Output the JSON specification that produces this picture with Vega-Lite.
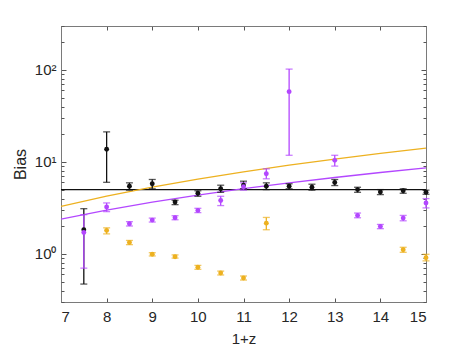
{
  "$schema": "https://vega.github.io/schema/vega-lite/v6.json",
  "width": 365,
  "height": 276,
  "autosize": "none",
  "padding": {"left": 61, "top": 26, "right": 45, "bottom": 46},
  "config": {
    "view": {"stroke": null},
    "font": "Liberation Sans",
    "axis": {
      "domainColor": "#7a7a7a",
      "tickColor": "#555555",
      "labelColor": "#262626",
      "titleColor": "#262626",
      "labelFont": "Liberation Sans",
      "titleFont": "Liberation Sans",
      "labelFontSize": 15,
      "titleFontSize": 15,
      "titleFontWeight": "normal",
      "grid": false
    }
  },
  "datasets": {
    "pts": [
      {"s": "b", "x": 7.5, "y": 1.83, "lo": 0.47, "hi": 3.1},
      {"s": "b", "x": 8, "y": 13.7, "lo": 6.0, "hi": 21.2},
      {"s": "b", "x": 8.5, "y": 5.44, "lo": 4.93, "hi": 5.92},
      {"s": "b", "x": 9, "y": 5.78, "lo": 5.1, "hi": 6.44},
      {"s": "b", "x": 9.5, "y": 3.67, "lo": 3.43, "hi": 3.83},
      {"s": "b", "x": 10, "y": 4.56, "lo": 4.23, "hi": 4.85},
      {"s": "b", "x": 10.5, "y": 5.1, "lo": 4.67, "hi": 5.58},
      {"s": "b", "x": 11, "y": 5.58, "lo": 5.1, "hi": 6.17},
      {"s": "b", "x": 11.5, "y": 5.44, "lo": 5.0, "hi": 5.92},
      {"s": "b", "x": 12, "y": 5.44, "lo": 5.1, "hi": 5.78},
      {"s": "b", "x": 12.5, "y": 5.3, "lo": 4.93, "hi": 5.72},
      {"s": "b", "x": 13, "y": 5.97, "lo": 5.53, "hi": 6.44},
      {"s": "b", "x": 13.5, "y": 5.0, "lo": 4.67, "hi": 5.3},
      {"s": "b", "x": 14, "y": 4.72, "lo": 4.41, "hi": 5.0},
      {"s": "b", "x": 14.5, "y": 4.85, "lo": 4.56, "hi": 5.1},
      {"s": "b", "x": 15, "y": 4.67, "lo": 4.45, "hi": 4.93},
      {"s": "o", "x": 8, "y": 1.8, "lo": 1.65, "hi": 1.92},
      {"s": "o", "x": 8.5, "y": 1.33, "lo": 1.26, "hi": 1.4},
      {"s": "o", "x": 9, "y": 0.99, "lo": 0.95, "hi": 1.03},
      {"s": "o", "x": 9.5, "y": 0.93, "lo": 0.9, "hi": 0.975},
      {"s": "o", "x": 10, "y": 0.715, "lo": 0.68, "hi": 0.75},
      {"s": "o", "x": 10.5, "y": 0.62, "lo": 0.59, "hi": 0.65},
      {"s": "o", "x": 11, "y": 0.547, "lo": 0.52, "hi": 0.575},
      {"s": "o", "x": 11.5, "y": 2.16, "lo": 1.83, "hi": 2.49},
      {"s": "o", "x": 14.5, "y": 1.11, "lo": 1.04, "hi": 1.18},
      {"s": "o", "x": 15, "y": 0.91, "lo": 0.84, "hi": 0.99},
      {"s": "p", "x": 7.5, "y": 1.71, "lo": 0.7, "hi": 2.67},
      {"s": "p", "x": 8, "y": 3.24, "lo": 2.88, "hi": 3.58},
      {"s": "p", "x": 8.5, "y": 2.13, "lo": 2.01, "hi": 2.24},
      {"s": "p", "x": 9, "y": 2.33, "lo": 2.22, "hi": 2.45},
      {"s": "p", "x": 9.5, "y": 2.47, "lo": 2.35, "hi": 2.6},
      {"s": "p", "x": 10, "y": 2.97, "lo": 2.81, "hi": 3.13},
      {"s": "p", "x": 10.5, "y": 3.8, "lo": 3.35, "hi": 4.23},
      {"s": "p", "x": 11, "y": 5.36, "lo": 4.93, "hi": 5.92},
      {"s": "p", "x": 11.5, "y": 7.43, "lo": 6.55, "hi": 8.4},
      {"s": "p", "x": 12, "y": 58, "lo": 11.8, "hi": 102},
      {"s": "p", "x": 13, "y": 10.4, "lo": 9.0, "hi": 11.8},
      {"s": "p", "x": 13.5, "y": 2.62, "lo": 2.47, "hi": 2.78},
      {"s": "p", "x": 14, "y": 1.99, "lo": 1.88, "hi": 2.09},
      {"s": "p", "x": 14.5, "y": 2.45, "lo": 2.29, "hi": 2.62},
      {"s": "p", "x": 15, "y": 3.58, "lo": 3.16, "hi": 3.99}
    ],
    "fits": [
      {"s": "b", "x": 7, "y": 5.0},
      {"s": "b", "x": 15, "y": 5.0},
      {"s": "o", "x": 7, "y": 3.29},
      {"s": "o", "x": 8, "y": 4.25},
      {"s": "o", "x": 9, "y": 5.32},
      {"s": "o", "x": 10, "y": 6.5},
      {"s": "o", "x": 11, "y": 7.8},
      {"s": "o", "x": 12, "y": 9.21},
      {"s": "o", "x": 13, "y": 10.73},
      {"s": "o", "x": 14, "y": 12.36},
      {"s": "o", "x": 15, "y": 14.1},
      {"s": "p", "x": 7, "y": 2.39},
      {"s": "p", "x": 8, "y": 2.99},
      {"s": "p", "x": 9, "y": 3.65},
      {"s": "p", "x": 10, "y": 4.36},
      {"s": "p", "x": 11, "y": 5.12},
      {"s": "p", "x": 12, "y": 5.92},
      {"s": "p", "x": 13, "y": 6.77},
      {"s": "p", "x": 14, "y": 7.67},
      {"s": "p", "x": 15, "y": 8.61}
    ]
  },
  "layer": [
    {
      "data": {"name": "fits"},
      "mark": {"type": "line", "strokeWidth": 1.3, "clip": true},
      "encoding": {
        "x": {"field": "x", "type": "quantitative",
          "scale": {"domain": [7, 15], "nice": false, "zero": false},
          "axis": {"orient": "bottom", "values": [7, 8, 9, 10, 11, 12, 13, 14, 15], "tickSize": -4, "labelPadding": 11, "title": "1+z", "titlePadding": 7}},
        "y": {"field": "y", "type": "quantitative",
          "scale": {"type": "log", "domain": [0.3, 300], "nice": false},
          "axis": {"orient": "left", "values": [1, 10, 100], "tickSize": -5, "labelPadding": 10,
            "labelExpr": "datum.value == 1 ? '10⁰' : datum.value == 10 ? '10¹' : '10²'",
            "title": "Bias", "titleFontSize": 16, "titlePadding": 6}},
        "color": {"field": "s", "type": "nominal", "legend": null,
          "scale": {"domain": ["b", "o", "p"], "range": ["#111111", "#EDB120", "#B347FF"]}},
        "detail": {"field": "s"}
      }
    },
    {
      "data": {"name": "pts"},
      "mark": {"type": "rule", "strokeWidth": 1.3},
      "encoding": {
        "x": {"field": "x", "type": "quantitative",
          "axis": {"orient": "top", "values": [7, 8, 9, 10, 11, 12, 13, 14, 15], "tickSize": -4, "labels": false, "title": null}},
        "y": {"field": "lo", "type": "quantitative",
          "axis": {"orient": "right", "values": [1, 10, 100], "tickSize": -5, "labels": false, "title": null}},
        "y2": {"field": "hi"},
        "color": {"field": "s", "type": "nominal", "legend": null}
      }
    },
    {
      "data": {"name": "pts"},
      "mark": {"type": "tick", "orient": "horizontal", "size": 7, "thickness": 1.3},
      "encoding": {
        "x": {"field": "x", "type": "quantitative", "axis": null},
        "y": {"field": "lo", "type": "quantitative",
          "axis": {"orient": "left", "values": [0.3, 0.4, 0.5, 0.6, 0.7, 0.8, 0.9, 2, 3, 4, 5, 6, 7, 8, 9, 20, 30, 40, 50, 60, 70, 80, 90, 200, 300], "tickSize": -3, "labels": false, "domain": false, "title": null}},
        "color": {"field": "s", "type": "nominal", "legend": null}
      }
    },
    {
      "data": {"name": "pts"},
      "mark": {"type": "tick", "orient": "horizontal", "size": 7, "thickness": 1.3},
      "encoding": {
        "x": {"field": "x", "type": "quantitative", "axis": null},
        "y": {"field": "hi", "type": "quantitative",
          "axis": {"orient": "right", "values": [0.3, 0.4, 0.5, 0.6, 0.7, 0.8, 0.9, 2, 3, 4, 5, 6, 7, 8, 9, 20, 30, 40, 50, 60, 70, 80, 90, 200, 300], "tickSize": -3, "labels": false, "domain": false, "title": null}},
        "color": {"field": "s", "type": "nominal", "legend": null}
      }
    },
    {
      "data": {"name": "pts"},
      "mark": {"type": "circle", "size": 24, "opacity": 1},
      "encoding": {
        "x": {"field": "x", "type": "quantitative", "axis": null},
        "y": {"field": "y", "type": "quantitative", "axis": null},
        "color": {"field": "s", "type": "nominal", "legend": null}
      }
    }
  ],
  "resolve": {"axis": {"x": "independent", "y": "independent"}}
}
